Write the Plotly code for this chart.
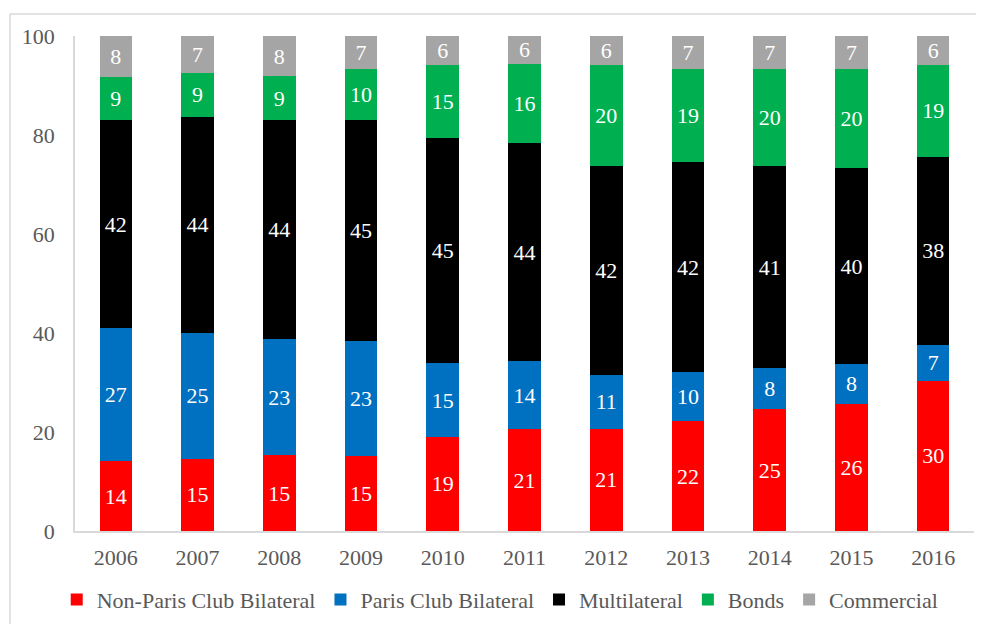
import plotly.graph_objects as go

years = ["2006", "2007", "2008", "2009", "2010", "2011", "2012", "2013", "2014", "2015", "2016"]
non_paris = [14.1, 14.6, 15.3, 15.2, 19.0, 20.6, 20.7, 22.2, 24.6, 25.7, 30.4]
paris = [26.9, 25.4, 23.4, 23.2, 14.9, 13.7, 10.9, 9.9, 8.3, 8.0, 7.2]
multilateral = [42.0, 43.7, 44.3, 44.6, 45.4, 44.1, 42.2, 42.4, 40.8, 39.6, 38.0]
bonds = [8.7, 8.9, 8.9, 10.3, 14.8, 16.0, 20.4, 18.8, 19.6, 20.0, 18.6]
commercial = [8.3, 7.4, 8.1, 6.7, 5.9, 5.6, 5.8, 6.7, 6.7, 6.7, 5.8]

y_ticks = [0, 20, 40, 60, 80, 100]

series = [
    ("Non-Paris Club Bilateral", non_paris, "#FF0000"),
    ("Paris Club Bilateral", paris, "#0070C0"),
    ("Multilateral", multilateral, "#000000"),
    ("Bonds", bonds, "#00B050"),
    ("Commercial", commercial, "#A5A5A5"),
]

FONT = "Liberation Serif"
FS = 22

fig = go.Figure()
for name, vals, color in series:
    fig.add_trace(go.Bar(
        name=name, x=years, y=vals,
        marker=dict(color=color, line=dict(width=0)),
        texttemplate="%{y:.0f}",
        textposition="inside",
        insidetextanchor="middle",
        textangle=0,
        constraintext="none",
        textfont=dict(family=FONT, size=FS, color="white"),
        hoverinfo="skip",
    ))

fig.update_layout(
    barmode="stack",
    bargap=0.6,
    width=984, height=624,
    margin=dict(l=67, r=18, t=28, b=101, autoexpand=False),
    paper_bgcolor="white",
    plot_bgcolor="white",
    font=dict(family=FONT, size=FS, color="#595959"),
    uniformtext=dict(minsize=FS, mode="show"),
    showlegend=True,
    legend=dict(
        orientation="h", x=0.473, xanchor="center", y=-0.139, yanchor="middle",
        font=dict(family=FONT, size=FS, color="#595959"),
        traceorder="normal",
    ),
    xaxis=dict(
        showline=True, linecolor="#d9d9d9", linewidth=1.5,
        ticks="", showgrid=False, ticklabelstandoff=6, automargin=False,
        tickfont=dict(family=FONT, size=FS, color="#595959"),
    ),
    yaxis=dict(
        range=[0, 100], tickvals=y_ticks,
        showline=True, linecolor="#d9d9d9", linewidth=1.5,
        ticks="", showgrid=False, zeroline=False, ticklabelstandoff=14,
        automargin=False,
        tickfont=dict(family=FONT, size=FS, color="#595959"),
    ),
    shapes=[dict(
        type="rect", xref="paper", yref="paper",
        x0=-0.0723, x1=1.03, y0=-0.25, y1=1.0444,
        line=dict(color="#d9d9d9", width=1.5), fillcolor="rgba(0,0,0,0)",
        layer="below",
    )],
)

fig.write_html("out.html")
